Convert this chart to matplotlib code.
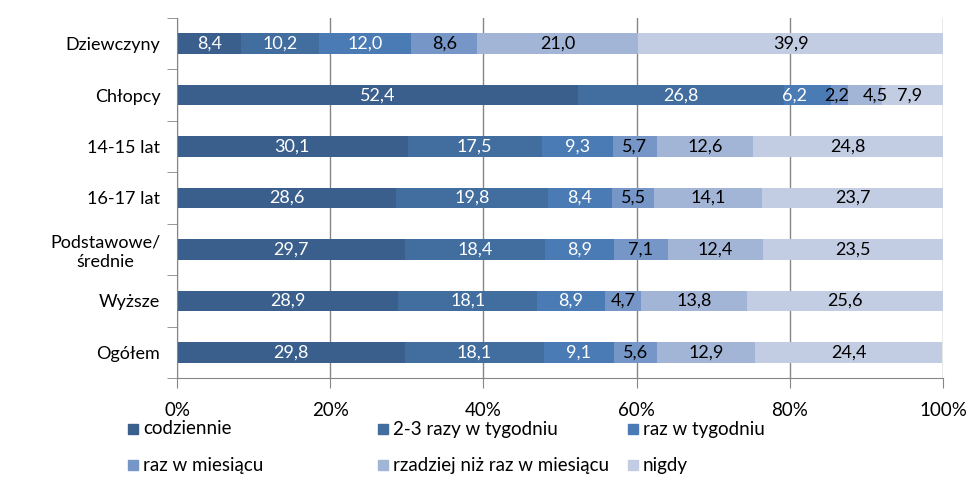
import numpy as np
import matplotlib.pyplot as plt
from matplotlib.patches import Rectangle

plt.rcParams['font.family'] = ['Lato', 'DejaVu Sans']

groups = ['Dziewczyny', 'Chłopcy', '14-15 lat', '16-17 lat', 'Podstawowe/\nśrednie', 'Wyższe', 'Ogółem']
series = ['codziennie', '2-3 razy w tygodniu', 'raz w tygodniu',
          'raz w miesiącu', 'rzadziej niż raz w miesiącu', 'nigdy']
codziennie = [8.4, 52.4, 30.1, 28.6, 29.7, 28.9, 29.8]
razy_2_3 = [10.2, 26.8, 17.5, 19.8, 18.4, 18.1, 18.1]
raz_tydz = [12.0, 6.2, 9.3, 8.4, 8.9, 8.9, 9.1]
raz_mies = [8.6, 2.2, 5.7, 5.5, 7.1, 4.7, 5.6]
rzadziej = [21.0, 4.5, 12.6, 14.1, 12.4, 13.8, 12.9]
nigdy = [39.9, 7.9, 24.8, 23.7, 23.5, 25.6, 24.4]
values = [codziennie, razy_2_3, raz_tydz, raz_mies, rzadziej, nigdy]

colors = ['#3a5f8c', '#416d9f', '#4a7bb5', '#7596c7', '#a3b5d6', '#c2cce2']
text_colors = ['white', 'white', 'white', 'black', 'black', 'black']
# small horizontal nudges (points) for crowded labels in the "Chłopcy" row
nudge = [0, 0, -9, -2, 7, -2]

fig = plt.figure(figsize=(9.8, 4.92), dpi=100)
ax = fig.add_axes([177/980, 1-378/492, (943-177)/980, (378-18)/492])

y = np.arange(len(groups))
left = np.zeros(len(groups))
for k, (vals, c, tc) in enumerate(zip(values, colors, text_colors)):
    vals = np.array(vals)
    bars = ax.barh(y, vals, left=left, height=0.4, color=c, zorder=2)
    anns = ax.bar_label(bars, labels=[f'{v:.1f}'.replace('.', ',') for v in vals],
                        label_type='center', color=tc, fontsize=13, zorder=5)
    anns[1].xyann = (nudge[k], 0)
    left += vals

ax.set_xlim(0, 100)
ax.set_ylim(len(groups) - 0.5, -0.5)
ax.set_xticks(np.arange(0, 101, 20))
ax.set_xticklabels([f'{v}%' for v in range(0, 101, 20)], fontsize=13.5)
ax.set_yticks(y)
ax.set_yticklabels(groups, fontsize=13, multialignment='center')
ax.set_yticks(np.arange(-0.5, len(groups)), minor=True)
ax.tick_params(axis='y', which='major', length=0, pad=12)
ax.tick_params(axis='y', which='minor', length=7, color='#868686')
ax.tick_params(axis='x', length=7, color='#868686', pad=10)
ax.grid(axis='x', color='#868686', linewidth=1, zorder=0)
for s in ['top', 'right']:
    ax.spines[s].set_visible(False)
for s in ['left', 'bottom']:
    ax.spines[s].set_color('#868686')

# legend, 3 columns x 2 rows
for i, (name, c) in enumerate(zip(series, colors)):
    col, row = i % 3, i // 3
    x0 = (128 + col * 250) / 980
    y0 = 1 - (429 + row * 36) / 492
    fig.patches.append(Rectangle((x0, y0 - 5/492), 10/980, 10/492,
                                 transform=fig.transFigure, color=c))
    fig.text(x0 + 15/980, y0, name, fontsize=13.5, va='center', ha='left')

fig.savefig('out.png', dpi=100)
